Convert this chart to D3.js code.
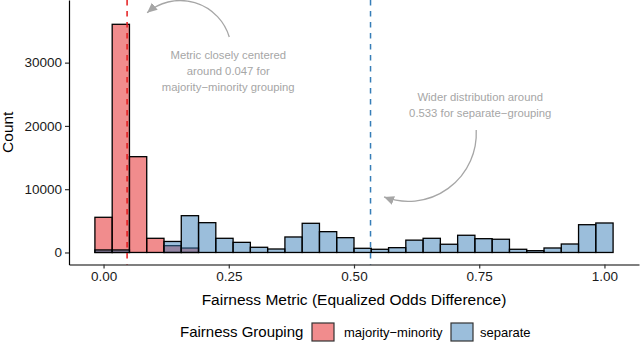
<!DOCTYPE html>
<html>
<head>
<meta charset="utf-8">
<script src="https://cdn.jsdelivr.net/npm/d3@7"></script>
<style>
  body { margin: 0; background: #fff; }
  svg { display: block; font-family: "Liberation Sans", Arial, sans-serif; }
</style>
</head>
<body>
<div id="chart"></div>
<script>
// Histogram data: 30 bins over [0, 1] (ggplot default binning)
const binRange = [0, 1];
const nBins = 30;
const groups = ["majority-minority", "separate"];
const groupLabels = ["majority\u2212minority", "separate"];
const groupColors = ["#E41A1C", "#377EB8"];

const countsMajority = [5560, 36060, 15140, 2240, 1075, 700, 0, 0, 0, 0,
  0, 0, 0, 0, 0, 0, 0, 0, 0, 0,
  0, 0, 0, 0, 0, 0, 0, 0, 0, 0];
const countsSeparate = [400, 400, 0, 0, 1740, 5815, 4710, 2240, 1600, 820,
  550, 2450, 4610, 3290, 2340, 660, 505, 760, 1950, 2240,
  1300, 2720, 2180, 2090, 505, 285, 710, 1340, 4390, 4660];

const groupMeans = [0.047, 0.533];

const xTicks = [0, 0.25, 0.5, 0.75, 1];
const yTicks = [0, 10000, 20000, 30000];

// annotations (data units)
const noteText = [
  ["Metric closely centered", "around 0.047 for", "majority\u2212minority grouping"],
  ["Wider distribution around", "0.533 for separate\u2212grouping"]
];
const notePos = [[0.249, 28700], [0.752, 23300]];
const arrowFrom = [[0.251, 34050], [0.744, 19360]];
const arrowTo = [[0.087, 37900], [0.560, 8770]];
const arrowSweep = [0, 1];

const width = 640, height = 352;
const panel = { left: 69, right: 639, top: 0, bottom: 264.5 };

const binW = (binRange[1] - binRange[0]) / (nBins - 1);
const xPad = 0.05 * (binRange[1] - binRange[0] + binW);
const x = d3.scaleLinear()
  .domain([binRange[0] - binW / 2 - xPad, binRange[1] + binW / 2 + xPad])
  .range([panel.left, panel.right]);
const y = d3.scaleLinear()
  .domain([-1900, 39900])
  .range([panel.bottom, panel.top]);

const svg = d3.select("#chart").append("svg")
  .attr("width", width)
  .attr("height", height);

// bars: majority first, separate on top (semi transparent)
[countsMajority, countsSeparate].forEach((counts, gi) => {
  svg.append("g")
    .selectAll("rect")
    .data(counts)
    .join("rect")
      .attr("x", (d, i) => x(binRange[0] + (i - 0.5) * binW))
      .attr("width", (d, i) => x(binRange[0] + (i + 0.5) * binW) - x(binRange[0] + (i - 0.5) * binW))
      .attr("y", d => y(d))
      .attr("height", d => y(0) - y(d))
      .attr("fill", groupColors[gi])
      .attr("fill-opacity", 0.5)
      .attr("stroke", "#000")
      .attr("stroke-width", 1.3);
});

// mean lines
svg.append("g")
  .selectAll("line")
  .data(groupMeans)
  .join("line")
    .attr("x1", d => x(d)).attr("x2", d => x(d))
    .attr("y1", panel.top).attr("y2", panel.bottom)
    .attr("stroke", (d, i) => groupColors[i])
    .attr("stroke-width", 1.5)
    .attr("stroke-dasharray", "5.5,5.5");

// axes
const xAxis = svg.append("g")
  .attr("transform", `translate(0,${panel.bottom})`)
  .call(d3.axisBottom(x).tickValues(xTicks).tickFormat(d3.format(".2f"))
    .tickSize(4).tickSizeOuter(0).tickPadding(3));
const yAxis = svg.append("g")
  .attr("transform", `translate(${panel.left},0)`)
  .call(d3.axisLeft(y).tickValues(yTicks).tickFormat(d3.format("d"))
    .tickSize(4).tickSizeOuter(0).tickPadding(3));

[xAxis, yAxis].forEach(g => {
  g.select(".domain").attr("stroke", "#000").attr("stroke-width", 1.2);
  g.selectAll(".tick line").attr("stroke", "#333").attr("stroke-width", 1.2);
  g.selectAll(".tick text")
    .attr("fill", "#1a1a1a")
    .style("font-size", "13.5px")
    .style("font-family", "'Liberation Sans', Arial, sans-serif");
});

// axis titles
svg.append("text")
  .attr("x", (panel.left + panel.right) / 2)
  .attr("y", 305)
  .attr("text-anchor", "middle")
  .style("font-size", "15.5px")
  .text("Fairness Metric (Equalized Odds Difference)");

svg.append("text")
  .attr("transform", `translate(12.5,${(panel.top + panel.bottom) / 2}) rotate(-90)`)
  .attr("text-anchor", "middle")
  .style("font-size", "15.5px")
  .text("Count");

// annotation arrows
const grey = "#A6A6A6";
svg.append("defs").append("marker")
  .attr("id", "head")
  .attr("markerUnits", "userSpaceOnUse")
  .attr("viewBox", "0 -5 10 10")
  .attr("refX", 10).attr("refY", 0)
  .attr("markerWidth", 10).attr("markerHeight", 10)
  .attr("orient", "auto")
  .append("path")
    .attr("d", "M0,-4.5L10,0L0,4.5Z")
    .attr("fill", grey);

function curvePath(p0, p1, sweep) {
  const [x0, y0] = [x(p0[0]), y(p0[1])];
  const [x1, y1] = [x(p1[0]), y(p1[1])];
  const L = Math.hypot(x1 - x0, y1 - y0);
  const s = 0.27 * L;
  const r = (s * s + (L / 2) * (L / 2)) / (2 * s);
  return `M${x0},${y0}A${r},${r} 0 0 ${sweep} ${x1},${y1}`;
}

svg.append("g")
  .selectAll("path")
  .data(arrowFrom)
  .join("path")
    .attr("d", (d, i) => curvePath(d, arrowTo[i], arrowSweep[i]))
    .attr("fill", "none")
    .attr("stroke", grey)
    .attr("stroke-width", 1.3)
    .attr("marker-end", "url(#head)");

// annotation text
const notes = svg.append("g")
  .selectAll("text")
  .data(noteText)
  .join("text")
    .attr("text-anchor", "middle")
    .attr("fill", grey)
    .style("font-size", "11.3px");
notes.each(function(lines, i) {
  const t = d3.select(this);
  const cx = x(notePos[i][0]);
  const cy = y(notePos[i][1]);
  const lh = 16.3;
  lines.forEach((line, j) => {
    t.append("tspan")
      .attr("x", cx)
      .attr("y", cy + (j - (lines.length - 1) / 2) * lh)
      .attr("dy", "0.35em")
      .text(line);
  });
});

// legend
const legend = svg.append("g");
legend.append("text")
  .attr("x", 180)
  .attr("y", 337)
  .style("font-size", "15px")
  .text("Fairness Grouping");

const keyX = [312, 451];
const labelX = [344, 480];
groups.forEach((g, i) => {
  legend.append("rect")
    .attr("x", keyX[i]).attr("y", 323)
    .attr("width", 22).attr("height", 18)
    .attr("fill", groupColors[i]).attr("fill-opacity", 0.5)
    .attr("stroke", "#333").attr("stroke-width", 1.2);
  legend.append("text")
    .attr("x", labelX[i]).attr("y", 336.5)
    .style("font-size", "13px")
    .text(groupLabels[i]);
});
</script>
</body>
</html>
